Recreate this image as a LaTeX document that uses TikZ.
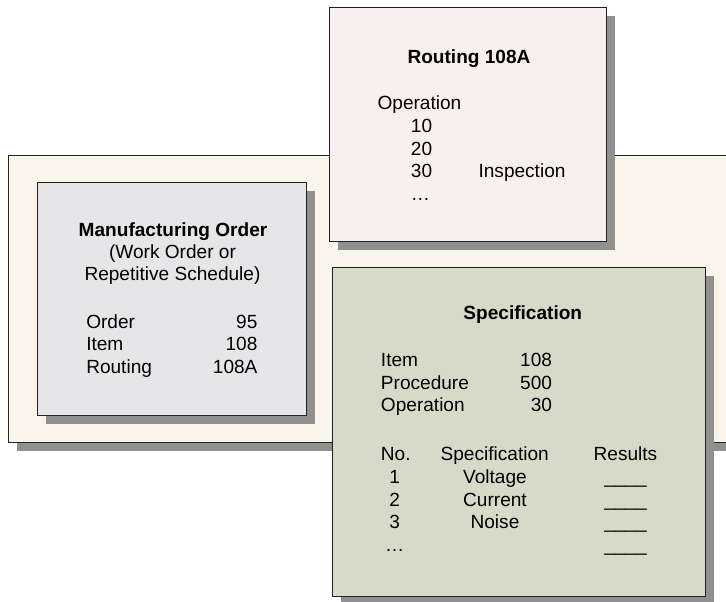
\documentclass[tikz,border=0pt]{standalone}
\usepackage{fontspec}
\setmainfont{Liberation Sans}
\usetikzlibrary{shadows}
\definecolor{bgc}{HTML}{F9F5EB}
\definecolor{mfgc}{HTML}{E6E6E8}
\definecolor{routc}{HTML}{F8F0EE}
\definecolor{specc}{HTML}{D8DAC9}
\definecolor{shadowc}{HTML}{909090}
\definecolor{edgec}{HTML}{222222}
\begin{document}
\begin{tikzpicture}[x=0.75pt,y=-0.75pt,
  box/.style={draw=edgec, line width=1pt, anchor=north west, inner sep=0pt,
    drop shadow={shadow xshift=6pt, shadow yshift=-6pt, fill=shadowc, opacity=1}},
  txt/.style={inner sep=0pt, font=\fontsize{14.3}{17}\selectfont},
  ctr/.style={txt, anchor=base},
  lft/.style={txt, anchor=base west},
  rgt/.style={txt, anchor=base east},
  ttl/.style={txt, anchor=base, font=\fontsize{14.3}{17}\selectfont\bfseries}]
\path[use as bounding box] (0,0) rectangle (726,602);
\clip (0,0) rectangle (726,602);
% boxes
\node[box, fill=bgc, minimum width=549pt, minimum height=215.25pt] (bg) at (8,155) {};
\node[box, fill=mfgc, minimum width=201.75pt, minimum height=174.75pt] (mfg) at (37,182) {};
\node[box, fill=routc, minimum width=207.75pt, minimum height=175.5pt] (rout) at (329,7) {};
\node[box, fill=specc, minimum width=279.75pt, minimum height=246.75pt] (spec) at (332,267) {};
% manufacturing order
\node[ttl] (m1) at (173,236.7) {Manufacturing Order};
\node[ctr] (m2) at (172.5,259) {(Work Order or};
\node[ctr] (m3) at (172.5,281) {Repetitive Schedule)};
\node[lft] (m4) at (86,328.5) {Order};
\node[lft] (m5) at (86,351) {Item};
\node[lft] (m6) at (86,373.5) {Routing};
\node[rgt] (m7) at (257.7,328.5) {95};
\node[rgt] (m8) at (257.7,351) {108};
\node[rgt] (m9) at (257.7,373.5) {108A};
% routing
\node[ttl] (r1) at (469,64) {Routing 108A};
\node[lft] (r2) at (377.3,110) {Operation};
\node[lft] (r3) at (410.7,132.7) {10};
\node[lft] (r4) at (410.7,155.3) {20};
\node[lft] (r5) at (410.7,178) {30};
\node[lft] (r6) at (478.3,178) {Inspection};
\node[lft] (r7) at (410.7,200.7) {…};
% specification
\node[ttl] (s1) at (522.8,320) {Specification};
\node[lft] (s2) at (380.7,366.7) {Item};
\node[lft] (s3) at (380.7,389.3) {Procedure};
\node[lft] (s4) at (380.7,412) {Operation};
\node[rgt] (s5) at (552.3,366.7) {108};
\node[rgt] (s6) at (552.3,389.3) {500};
\node[rgt] (s7) at (552.3,412) {30};
\node[lft] (s8) at (380.7,461) {No.};
\node[ctr] (s9) at (494.7,461) {Specification};
\node[ctr] (s10) at (625.5,461) {Results};
\node[ctr] (n1) at (394.7,483.7) {1};
\node[ctr] (n2) at (394.7,506.3) {2};
\node[ctr] (n3) at (394.7,529) {3};
\node[ctr] (n4) at (394.7,551.7) {…};
\node[ctr] (v1) at (495,483.7) {Voltage};
\node[ctr] (v2) at (495,506.3) {Current};
\node[ctr] (v3) at (495,529) {Noise};
\node[ctr] (u1) at (625.5,483.7) {\_\_\_\_};
\node[ctr] (u2) at (625.5,506.3) {\_\_\_\_};
\node[ctr] (u3) at (625.5,529) {\_\_\_\_};
\node[ctr] (u4) at (625.5,551.7) {\_\_\_\_};
\end{tikzpicture}
\end{document}
